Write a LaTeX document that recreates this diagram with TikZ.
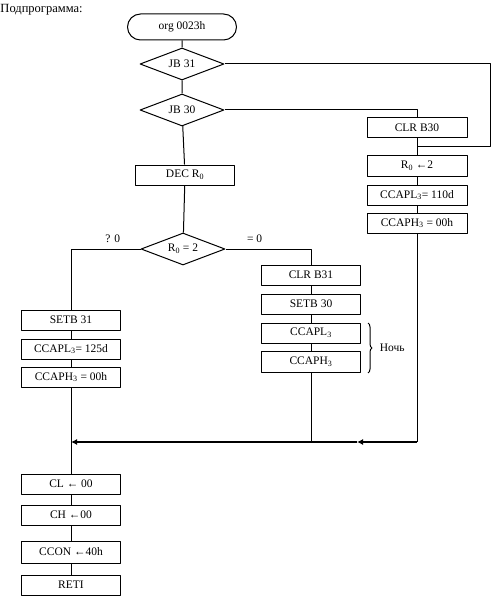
\documentclass[tikz,border=0pt]{standalone}
\usepackage{fontspec}
\setmainfont{Liberation Serif}
\usetikzlibrary{arrows.meta,shapes.geometric,decorations.pathreplacing}

\begin{document}
\begin{tikzpicture}[x=1pt,y=-1pt,line width=1pt,line join=round,>={Latex[length=6pt,width=6pt]},
  font=\fontsize{11.5}{13}\selectfont,
  box/.style={draw,minimum width=99pt,minimum height=20pt,inner sep=1pt},
  cond/.style={draw,diamond,aspect=2.6,inner sep=0pt,minimum width=84pt,minimum height=32pt},
  term/.style={draw,rounded corners=13pt,minimum width=109pt,minimum height=26pt},
  flow/.style={line width=2pt,->}]
\useasboundingbox (0,0) rectangle (491,596);
\node[anchor=west,inner sep=0pt,font=\fontsize{12.5}{14}\selectfont] (title) at (0,10) {Подпрограмма:};
% main column
\node[term] (start) at (182,27) {org 0023h};
\node[cond] (jb31) at (182,64) {JB 31};
\node[cond] (jb30) at (182,110) {JB 30};
\node[box] (dec) at (185,175) {DEC R\textsubscript{0}};
\node[cond] (rtest) at (183,249) {R\textsubscript{0} = 2};
% right column
\node[box,minimum width=100pt] (clrb30) at (417,128) {CLR B30};
\node[box,minimum width=100pt] (rset) at (417,166) {R\textsubscript{0} ←2};
\node[box,minimum width=100pt] (caplr) at (417,195) {CCAPL\textsubscript{3}= 110d};
\node[box,minimum width=100pt] (caphr) at (417,223) {CCAPH\textsubscript{3} = 00h};
% middle column
\node[box] (clrb31) at (311,275) {CLR B31};
\node[box] (setb30) at (311,304) {SETB 30};
\node[box] (caplm) at (311,333) {CCAPL\textsubscript{3}};
\node[box,minimum height=21pt] (caphm) at (311,362) {CCAPH\textsubscript{3}};
% left column
\node[box] (setb31) at (71,320) {SETB 31};
\node[box] (capll) at (71,349) {CCAPL\textsubscript{3}= 125d};
\node[box] (caphl) at (71,377) {CCAPH\textsubscript{3} = 00h};
\node[box] (cl) at (71,484) {CL ← 00};
\node[box] (ch) at (71,515) {CH ←00};
\node[box,minimum height=22pt] (ccon) at (71,552) {CCON ←40h};
\node[box] (reti) at (71,585) {RETI};
\coordinate (edge) at (490,147);
\coordinate (back) at (417,147);
\coordinate (rj) at (417,442);
\coordinate (mid) at (357,442);
\coordinate (mj) at (311,442);
\coordinate (jn) at (71,442);
\draw (start) -- (jb31) -- (jb30) -- (dec) -- (rtest);
\draw (jb31.east) -| (edge) -- (back);
\draw (jb30.east) -| (clrb30.north);
\draw (clrb30) -- (rset) -- (caplr) -- (caphr);
\draw (rtest.west) -| (setb31.north) node[pos=0.2,above=3pt] {? 0};
\draw (rtest.east) -| (clrb31.north) node[pos=0.17,above=3pt] {= 0};
\draw (clrb31) -- (setb30) -- (caplm) -- (caphm);
\draw (setb31) -- (capll) -- (caphl);
\draw (caphl.south) -- (cl.north);
\draw (cl) -- (ch) -- (ccon) -- (reti);
\draw (caphm.south) -- (mj);
\draw (caphr.south) -- (rj);
\draw[flow] (rj) -- (mid);
\draw[flow] (mid) -- (jn);
\draw[decorate,decoration={brace,amplitude=4pt}] (368,323) -- (368,373)
  node[midway,right=8pt] (night) {Ночь};
\end{tikzpicture}
\end{document}
